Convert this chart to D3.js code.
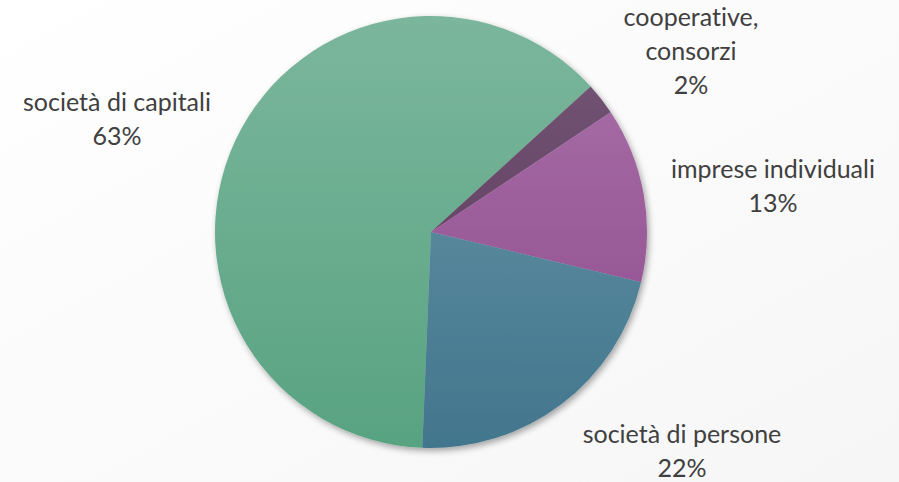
<!DOCTYPE html>
<html>
<head>
<meta charset="utf-8">
<script src="https://cdn.jsdelivr.net/npm/d3@7"></script>
<style>
  html, body { margin: 0; padding: 0; background: #fff; }
  svg { display: block; }
  text { font-family: Lato, "Open Sans", sans-serif; fill: #404040; font-variant-ligatures: none; font-feature-settings: "liga" 0, "clig" 0; }
</style>
</head>
<body>
<svg id="chart" width="899" height="482"></svg>
<script>
// Forme giuridiche delle imprese (quote percentuali)
const categories = ["società di capitali", "cooperative, consorzi", "imprese individuali", "società di persone"];
const values = [62.6, 2.4, 13.1, 21.9];
const labelLines = [["società di capitali"], ["cooperative,", "consorzi"], ["imprese individuali"], ["società di persone"]];
const colorsTop = ["#7bb69c", "#745877", "#aa72aa", "#6a97a9"];
const colorsBottom = ["#58a381", "#5a3358", "#8d488b", "#42768d"];

const W = 899, H = 482;
const cx = 431, cy = 232, R = 216;
const svg = d3.select("#chart");
const defs = svg.append("defs");

// sfondo leggermente sfumato
const bg = defs.append("linearGradient").attr("id", "bg")
  .attr("x1", 0).attr("y1", 0).attr("x2", 1).attr("y2", 1);
bg.append("stop").attr("offset", 0).attr("stop-color", "#ffffff");
bg.append("stop").attr("offset", 1).attr("stop-color", "#f6f6f6");
svg.append("rect").attr("width", W).attr("height", H).attr("fill", "url(#bg)");

// ombra della torta
const f = defs.append("filter").attr("id", "shadow")
  .attr("x", "-10%").attr("y", "-10%").attr("width", "120%").attr("height", "120%");
f.append("feDropShadow").attr("dx", 2).attr("dy", 3).attr("stdDeviation", 3)
  .attr("flood-color", "#000").attr("flood-opacity", 0.35);

// sfumatura verticale comune a tutta la torta (coordinate locali al gruppo)
categories.forEach((c, i) => {
  const g = defs.append("linearGradient").attr("id", "g" + i)
    .attr("gradientUnits", "userSpaceOnUse")
    .attr("x1", 0).attr("y1", -R).attr("x2", 0).attr("y2", R);
  g.append("stop").attr("offset", 0).attr("stop-color", colorsTop[i]);
  g.append("stop").attr("offset", 1).attr("stop-color", colorsBottom[i]);
});

const start = 182.3 * Math.PI / 180;
const pie = d3.pie().sort(null).value(d => d)
  .startAngle(start).endAngle(start + 2 * Math.PI);
const arcs = pie(values);
const arc = d3.arc().innerRadius(0).outerRadius(R);

const gPie = svg.append("g").attr("transform", `translate(${cx},${cy})`)
  .attr("filter", "url(#shadow)");
gPie.selectAll("path").data(arcs).join("path")
  .attr("d", arc)
  .attr("fill", (d, i) => `url(#g${i})`);

// etichette: nome e percentuale (x centro, linea di base della prima riga)
const labelPos = [[117, 111], [691, 26], [773, 178], [682, 443]];
const lineH = 34;
const fmt = d3.format(".0f");
labelPos.forEach((p, i) => {
  const lines = labelLines[i].concat([fmt(values[i]) + "%"]);
  const t = svg.append("text").attr("text-anchor", "middle")
    .attr("font-size", 25);
  lines.forEach((l, k) => {
    t.append("tspan").attr("x", p[0]).attr("y", p[1] + k * lineH).text(l);
  });
});
</script>
</body>
</html>
